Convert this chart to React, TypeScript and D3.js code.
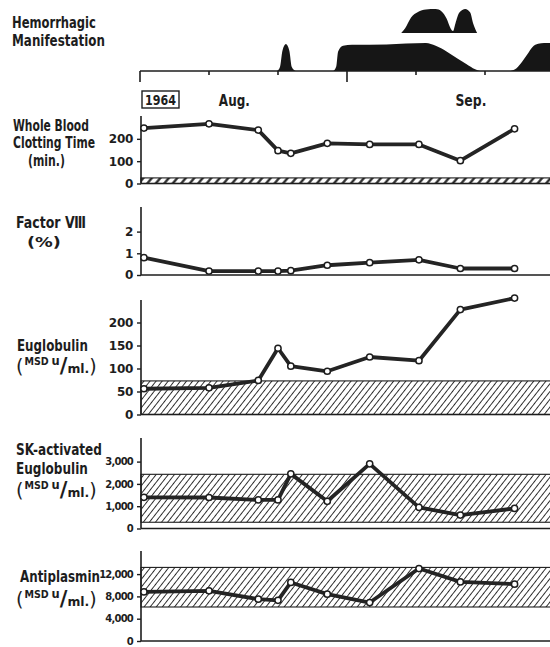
import { useEffect, useRef } from 'react';
import * as d3 from 'd3';

// day of observation (0 = first weekly tick of the time axis)
const days = [0.4, 7, 12, 14, 15.3, 19, 23.3, 28.3, 32.5, 38];

const clottingTime = [248, 267, 239, 147, 135, 180, 175, 175, 102, 245];
const factorVIII = [0.8, 0.18, 0.18, 0.18, 0.2, 0.45, 0.57, 0.7, 0.3, 0.3];
const euglobulin = [56, 58, 74, 144, 105, 94, 125, 117, 228, 253];
const skEuglobulin = [1400, 1390, 1280, 1280, 2450, 1220, 2900, 950, 600, 900];
const antiplasmin = [8800, 9000, 7500, 7300, 10500, 8400, 6900, 13000, 10600, 10200];

// normal ranges (hatched)
const clottingNormal = [0, 25];
const euglobulinNormal = [0, 73];
const skNormal = [280, 2430];
const antiplasminNormal = [6100, 13200];

const clottingTicks = [0, 100, 200];
const factorTicks = [0, 1, 2];
const euglobulinTicks = [0, 50, 100, 150, 200];
const skTicks = [0, 1000, 2000, 3000];
const antiplasminTicks = [0, 4000, 8000, 12000];

// time axis
const weekTicks = [0, 7, 14, 21, 28, 35];
const longTicks = [0, 21];
const monthLabels = ['Aug.', 'Sep.'];
const monthDays = [8.0, 32.0];

// hemorrhagic manifestation: [day, intensity]
const bleedSpike = [[13.9, 0], [14.2, 0.15], [14.45, 0.75], [14.8, 1], [15.15, 0.75], [15.4, 0.15], [15.8, 0]];
const bleedMain = [[19.6, 0], [19.9, 0.15], [20.1, 0.7], [20.6, 0.9], [21.5, 0.94], [25, 0.95], [29, 1], [30, 0.9], [31.1, 0.7], [32.2, 0.45], [33.1, 0.25], [34, 0.06], [34.5, 0]];
const bleedUpper = [[26.5, 0], [26.9, 0.2], [27.5, 0.65], [28.2, 0.88], [29, 0.98], [30, 1], [30.6, 0.9], [31.1, 0.6], [31.5, 0.2], [31.75, 0.08], [32.0, 0.4], [32.4, 0.85], [33, 1], [33.5, 0.85], [33.8, 0.4], [34.2, 0]];
const bleedLate = [[37.6, 0], [38.2, 0.1], [38.8, 0.35], [39.3, 0.6], [39.8, 0.85], [40.4, 0.97], [41, 1], [42.5, 1]];

export default function App() {
	const svgRef = useRef<SVGSVGElement>(null);

	useEffect(() => {
		const svg = d3.select(svgRef.current);
		svg.selectAll('*').remove();

		const ink = '#1d1d1d';
		const font = "'DejaVu Sans', sans-serif";
		const axisX = 141;
		const x = d3.scaleLinear().domain([0, 42]).range([140, 554]);

		const defs = svg.append('defs');
		const addHatch = (id: string, gap: number, w: number, angle: number) => {
			defs.append('pattern')
				.attr('id', id)
				.attr('patternUnits', 'userSpaceOnUse')
				.attr('width', gap)
				.attr('height', gap)
				.attr('patternTransform', `rotate(${angle})`)
				.append('line')
				.attr('x1', gap / 2).attr('x2', gap / 2)
				.attr('y1', -1).attr('y2', gap + 1)
				.attr('stroke', ink)
				.attr('stroke-width', w);
		};
		addHatch('hatch', 4.8, 0.9, 38);
		addHatch('hatchBold', 6.5, 2.2, 40);

		// squeeze a text horizontally to a target width (the lettering is condensed)
		const squeeze = (t: d3.Selection<SVGTextElement, unknown, null, undefined>, lx: number, ly: number, w: number) => {
			const node = t.node() as SVGTextElement;
			const natural = node.getComputedTextLength() || w;
			t.attr('x', 0).attr('y', 0).attr('transform', `translate(${lx},${ly}) scale(${w / natural},1)`);
		};

		// ---- hemorrhagic manifestation
		const timeY = 71;
		const upperY = 33;
		const blob = (pts: number[][], base: number, h: number) => {
			const area = d3.area<number[]>()
				.x((d) => x(d[0]))
				.y0(base)
				.y1((d) => base - d[1] * h)
				.curve(d3.curveMonotoneX);
			svg.append('path').attr('d', area(pts)).attr('fill', '#161616');
		};
		blob(bleedSpike, timeY, 27);
		blob(bleedMain, timeY, 28);
		blob(bleedLate, timeY, 28);
		blob(bleedUpper, upperY, 24);

		svg.append('line')
			.attr('x1', 140).attr('x2', 550)
			.attr('y1', timeY).attr('y2', timeY)
			.attr('stroke', ink).attr('stroke-width', 1.6);
		svg.selectAll('.wk')
			.data(weekTicks)
			.join('line')
			.attr('x1', (d) => x(d)).attr('x2', (d) => x(d))
			.attr('y1', timeY)
			.attr('y2', (d) => (longTicks.includes(d) ? timeY + 11 : timeY + 4))
			.attr('stroke', ink).attr('stroke-width', 1.6);

		svg.append('rect')
			.attr('x', 142).attr('y', 91).attr('width', 37).attr('height', 17)
			.attr('fill', 'none').attr('stroke', ink).attr('stroke-width', 1.4);
		const year = svg.append('text')
			.attr('font-family', font).attr('font-weight', 'bold').attr('font-size', 14)
			.attr('fill', ink).text('1964');
		squeeze(year, 145, 105, 31);
		monthLabels.forEach((m, i) => {
			const t = svg.append('text')
				.attr('font-family', font).attr('font-weight', 'bold').attr('font-size', 16)
				.attr('fill', ink).text(m);
			squeeze(t, x(monthDays[i]), 106, 31);
		});

		// ---- left hand labels
		const label = (text: string, lx: number, ly: number, w: number, size = 15.5) => {
			const t = svg.append('text')
				.attr('font-family', font).attr('font-weight', 'bold').attr('font-size', size)
				.attr('fill', ink).text(text);
			squeeze(t, lx, ly, w);
		};
		const unitLabel = (lx: number, ly: number) => {
			const t = svg.append('text')
				.attr('font-family', font).attr('fill', ink);
			t.append('tspan').attr('font-size', 20).text('(');
			t.append('tspan').attr('font-size', 10).attr('dy', -8).attr('dx', 1).attr('font-weight', 'bold').text('MSD');
			t.append('tspan').attr('font-size', 12).attr('dx', 3).attr('font-weight', 'bold').text('u');
			t.append('tspan').attr('font-size', 22).attr('dy', 8).attr('font-weight', 'bold').text('/');
			t.append('tspan').attr('font-size', 13).attr('font-weight', 'bold').text('ml.');
			t.append('tspan').attr('font-size', 20).text(')');
			squeeze(t, lx, ly, 77);
		};

		label('Hemorrhagic', 12, 28, 84);
		label('Manifestation', 12, 46, 93);
		label('Whole Blood', 13, 131, 76);
		label('Clotting Time', 13, 148, 82);
		label('(min.)', 28, 166, 37);
		label('Factor \u2167', 16, 228, 70);
		label('(%)', 27, 247, 34, 14.5);
		label('Euglobulin', 17, 351, 71);
		unitLabel(16, 373);
		label('SK-activated', 16, 455, 86);
		label('Euglobulin', 16, 474, 72);
		unitLabel(16, 497);
		label('Antiplasmin', 20, 582, 80);
		unitLabel(16, 606);

		// ---- panels
		type Panel = {
			values: number[];
			ticks: number[];
			max: number;
			zeroY: number;
			topY: number;
			axisTop: number;
			normal?: number[];
			hatch?: string;
			tickSize: number;
		};
		const panels: Panel[] = [
			{ values: clottingTime, ticks: clottingTicks, max: 300, zeroY: 183.5, topY: 116.5, axisTop: 116, normal: clottingNormal, hatch: 'hatchBold', tickSize: 12 },
			{ values: factorVIII, ticks: factorTicks, max: 3, zeroY: 275, topY: 209.9, axisTop: 207, tickSize: 12 },
			{ values: euglobulin, ticks: euglobulinTicks, max: 250, zeroY: 414.5, topY: 299.5, axisTop: 300, normal: euglobulinNormal, hatch: 'hatch', tickSize: 12 },
			{ values: skEuglobulin, ticks: skTicks, max: 4000, zeroY: 528.5, topY: 439.3, axisTop: 438, normal: skNormal, hatch: 'hatch', tickSize: 10 },
			{ values: antiplasmin, ticks: antiplasminTicks, max: 16000, zeroY: 641, topY: 551.8, axisTop: 551, normal: antiplasminNormal, hatch: 'hatch', tickSize: 10 }
		];

		panels.forEach((p) => {
			const y = d3.scaleLinear().domain([0, p.max]).range([p.zeroY, p.topY]);
			const g = svg.append('g');

			if (p.normal) {
				g.append('rect')
					.attr('x', axisX)
					.attr('y', y(p.normal[1]))
					.attr('width', 550 - axisX + 2)
					.attr('height', y(p.normal[0]) - y(p.normal[1]))
					.attr('fill', `url(#${p.hatch})`)
					.attr('stroke', ink)
					.attr('stroke-width', 1.1);
			}

			// baseline and vertical axis
			g.append('line')
				.attr('x1', axisX).attr('x2', 552)
				.attr('y1', p.zeroY).attr('y2', p.zeroY)
				.attr('stroke', ink).attr('stroke-width', 1.6);
			g.append('line')
				.attr('x1', axisX).attr('x2', axisX)
				.attr('y1', p.axisTop).attr('y2', p.zeroY)
				.attr('stroke', ink).attr('stroke-width', 1.6);

			const ax = g.append('g')
				.attr('transform', `translate(${axisX},0)`)
				.call(
					d3.axisLeft(y)
						.tickValues(p.ticks)
						.tickSize(4)
						.tickPadding(4)
						.tickFormat((d) => d3.format(',')(d as number))
				);
			ax.select('.domain').remove();
			ax.selectAll('line').attr('stroke', ink).attr('stroke-width', 1.4);
			ax.selectAll('text')
				.attr('font-family', font)
				.attr('font-weight', 'bold')
				.attr('font-size', p.tickSize)
				.attr('letter-spacing', p.tickSize < 11 ? -0.8 : -0.3)
				.attr('fill', ink);

			const line = d3.line<number>()
				.x((_, i) => x(days[i]))
				.y((d) => y(d));
			g.append('path')
				.attr('d', line(p.values))
				.attr('fill', 'none')
				.attr('stroke', '#242424')
				.attr('stroke-width', 3.8)
				.attr('stroke-linejoin', 'round');
			g.selectAll('.pt')
				.data(p.values)
				.join('circle')
				.attr('cx', (_, i) => x(days[i]))
				.attr('cy', (d) => y(d))
				.attr('r', 3.1)
				.attr('fill', '#fff')
				.attr('stroke', ink)
				.attr('stroke-width', 1.5);
		});

		return () => {
			svg.selectAll('*').remove();
		};
	}, []);

	return (
		<svg
			ref={svgRef}
			width={550}
			height={647}
			style={{ position: 'fixed', left: 0, top: 0, background: '#fff', display: 'block' }}
		/>
	);
}
